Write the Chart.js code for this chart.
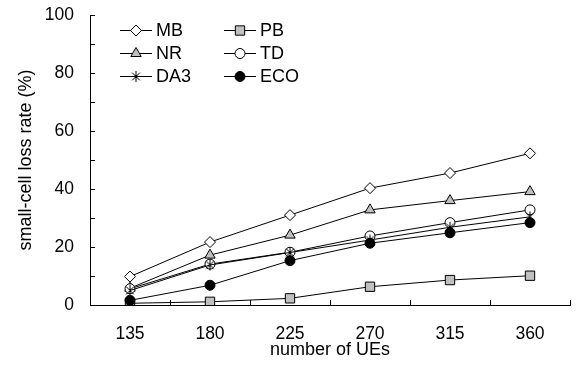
<!DOCTYPE html>
<html>
<head>
<meta charset="utf-8">
<script src="https://cdn.jsdelivr.net/npm/chart.js@4/dist/chart.umd.min.js"></script>
<style>
  html, body { margin: 0; padding: 0; background: #fff; }
  canvas { display: block; }
</style>
</head>
<body>
<canvas id="c" width="579" height="367"></canvas>
<script>
// Number of UEs on the x axis
const categories = ['135', '180', '225', '270', '315', '360'];

// Small-cell loss rate (%) per scheme
const seriesMB  = [9.8, 21.7, 31.0, 40.3, 45.5, 52.3];
const seriesPB  = [0.6, 1.1, 2.3, 6.3, 8.6, 10.1];
const seriesNR  = [5.8, 17.2, 24.1, 32.8, 36.0, 39.1];
const seriesTD  = [5.6, 14.1, 18.2, 23.8, 28.4, 32.8];
const seriesDA3 = [5.0, 13.8, 18.1, 22.4, 26.8, 30.4];
const seriesECO = [1.6, 6.8, 15.3, 21.3, 24.9, 28.4];

const FONT = 'Liberation Sans, Arial, sans-serif';

// Six-armed asterisk marker (vertical stroke plus an X)
function makeAsterisk(r) {
  const s = Math.ceil(r * 2 + 4);
  const cv = document.createElement('canvas');
  cv.width = s; cv.height = s;
  const g = cv.getContext('2d');
  const c = s / 2;
  g.strokeStyle = '#000';
  g.lineWidth = 1;
  g.beginPath();
  g.moveTo(c, c - r); g.lineTo(c, c + r);
  const d = r * Math.SQRT1_2;
  g.moveTo(c - d, c - d); g.lineTo(c + d, c + d);
  g.moveTo(c - d, c + d); g.lineTo(c + d, c - d);
  g.stroke();
  return cv;
}
const asterisk = makeAsterisk(5.5);

function ds(label, data, style, bg, radius, order) {
  return {
    label, data,
    borderColor: '#000',
    borderWidth: 1,
    pointStyle: style,
    pointRadius: radius,
    pointHoverRadius: radius,
    pointBackgroundColor: bg,
    pointBorderColor: '#000',
    pointBorderWidth: 1,
    tension: 0,
    fill: false,
    order
  };
}

const datasets = [
  ds('MB',  seriesMB,  'rectRot',  '#fff',    5.5, 6),
  ds('PB',  seriesPB,  'rect',     '#c0c0c0', 6.6, 5),
  ds('NR',  seriesNR,  'triangle', '#c0c0c0', 6,   4),
  ds('TD',  seriesTD,  'circle',   '#fff',    5,   3),
  ds('DA3', seriesDA3, asterisk,   '#fff',    5,   2),
  ds('ECO', seriesECO, 'circle',   '#000',    5,   1)
];

// Legend laid out in two columns, three rows, inside the plot area
const legendPlugin = {
  id: 'gridLegend',
  afterDraw(chart) {
    const ctx = chart.ctx;
    const colX = [120, 224];
    const rowY = [30, 53, 76];
    const lineLen = 32;
    ctx.save();
    ctx.font = '18px ' + FONT;
    ctx.textBaseline = 'middle';
    chart.data.datasets.forEach((d, i) => {
      const x0 = colX[i % 2];
      const y = rowY[Math.floor(i / 2)];
      ctx.strokeStyle = '#000';
      ctx.lineWidth = 1;
      ctx.beginPath();
      ctx.moveTo(x0, y + 0.5);
      ctx.lineTo(x0 + lineLen, y + 0.5);
      ctx.stroke();
      const opts = {
        pointStyle: d.pointStyle, radius: d.pointRadius, rotation: 0,
        borderWidth: 1, borderColor: '#000', backgroundColor: d.pointBackgroundColor
      };
      ctx.fillStyle = d.pointBackgroundColor;
      ctx.strokeStyle = '#000';
      Chart.helpers.drawPoint(ctx, opts, x0 + lineLen / 2, y + 0.5);
      ctx.fillStyle = '#000';
      ctx.fillText(d.label, x0 + lineLen + 4, y + 1);
    });
    ctx.restore();
  }
};

// Short inward tick marks on both axes
const tickPlugin = {
  id: 'inwardTicks',
  afterDraw(chart) {
    const { ctx, scales: { x, y } } = chart;
    ctx.save();
    ctx.strokeStyle = '#000';
    ctx.lineWidth = 1;
    ctx.beginPath();
    for (let v = 0; v <= 100; v += 10) {
      const py = Math.round(y.getPixelForValue(v)) + 0.5;
      ctx.moveTo(x.left, py); ctx.lineTo(x.left + 5, py);
    }
    for (let i = 0; i <= categories.length; i++) {
      const px = Math.round(x.getPixelForValue(i - 0.5)) + 0.5;
      ctx.moveTo(px, y.bottom); ctx.lineTo(px, y.bottom - 5);
    }
    ctx.stroke();
    ctx.restore();
  }
};

new Chart(document.getElementById('c'), {
  type: 'line',
  data: { labels: categories, datasets },
  options: {
    responsive: false,
    animation: false,
    layout: { padding: { top: 15, right: 9, left: 0, bottom: 0 } },
    plugins: { legend: { display: false }, tooltip: { enabled: false } },
    scales: {
      x: {
        type: 'category',
        offset: true,
        grid: { display: true, drawOnChartArea: false, drawTicks: false, offset: true, color: 'rgba(0,0,0,0)' },
        border: { display: true, color: '#000', width: 1 },
        ticks: { color: '#000', font: { family: FONT, size: 17.5 }, padding: 19, maxRotation: 0 },
        title: { display: true, text: 'number of UEs', color: '#000', font: { family: FONT, size: 18 }, padding: { top: 0, bottom: 6 } },
        afterFit(scale) { scale.height = 62; scale.paddingLeft = 0; scale.paddingRight = 0; }
      },
      y: {
        min: 0, max: 100,
        grid: { display: true, drawOnChartArea: false, drawTicks: false, color: 'rgba(0,0,0,0)' },
        border: { display: true, color: '#000', width: 1 },
        ticks: { stepSize: 20, color: '#000', font: { family: FONT, size: 17.5 }, padding: 16 },
        title: { display: true, text: 'small-cell loss rate (%)', color: '#000', font: { family: FONT, size: 18 }, padding: { top: 15, bottom: 0 } },
        afterFit(scale) { scale.width = 90; scale.paddingTop = 0; scale.paddingBottom = 0; }
      }
    }
  },
  plugins: [tickPlugin, legendPlugin]
});
</script>
</body>
</html>
